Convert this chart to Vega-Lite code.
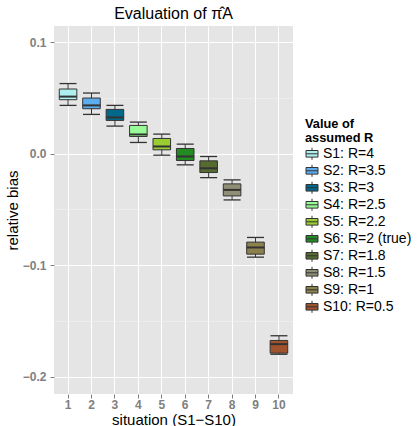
{
  "$schema": "https://vega.github.io/schema/vega-lite/v6.json",
  "width": 239,
  "height": 368,
  "autosize": {"type": "none"},
  "padding": {"left": 54, "top": 26, "right": 125, "bottom": 32},
  "background": "white",
  "config": {"font": "Liberation Sans", "view": {"fill": "#E5E5E5", "stroke": null}},
  "title": {"text": "Evaluation of π̂A", "fontSize": 16, "fontWeight": "normal", "color": "black", "offset": 4, "anchor": "middle"},
  "data": {"values": [
    {"situation": 1, "label": "S1: R=4", "lo": 0.0435, "q1": 0.0486, "med": 0.0514, "q3": 0.0582, "hi": 0.0631},
    {"situation": 2, "label": "S2: R=3.5", "lo": 0.0354, "q1": 0.0405, "med": 0.0435, "q3": 0.0501, "hi": 0.0546},
    {"situation": 3, "label": "S3: R=3", "lo": 0.0249, "q1": 0.030, "med": 0.0327, "q3": 0.0399, "hi": 0.0435},
    {"situation": 4, "label": "S4: R=2.5", "lo": 0.0102, "q1": 0.0156, "med": 0.0174, "q3": 0.0255, "hi": 0.0285},
    {"situation": 5, "label": "S5: R=2.2", "lo": -0.0012, "q1": 0.0036, "med": 0.0066, "q3": 0.0138, "hi": 0.0177},
    {"situation": 6, "label": "S6: R=2 (true)", "lo": -0.0099, "q1": -0.006, "med": -0.0024, "q3": 0.0048, "hi": 0.0087},
    {"situation": 7, "label": "S7: R=1.8", "lo": -0.0214, "q1": -0.0168, "med": -0.013, "q3": -0.0063, "hi": -0.0024},
    {"situation": 8, "label": "S8: R=1.5", "lo": -0.0414, "q1": -0.0378, "med": -0.0324, "q3": -0.027, "hi": -0.0234},
    {"situation": 9, "label": "S9: R=1", "lo": -0.0928, "q1": -0.0901, "med": -0.0841, "q3": -0.0793, "hi": -0.0751},
    {"situation": 10, "label": "S10: R=0.5", "lo": -0.180, "q1": -0.179, "med": -0.1709, "q3": -0.1676, "hi": -0.1634}
  ]},
  "encoding": {
    "x": {
      "field": "situation", "type": "ordinal",
      "scale": {"paddingInner": 0.25, "paddingOuter": 0.225},
      "axis": {"title": "situation (S1−S10)", "titleFontSize": 15, "titleFontWeight": "normal", "titleColor": "black", "titlePadding": 2,
               "labelAngle": 0, "labelFontSize": 12, "labelFontWeight": "bold", "labelColor": "#7F7F7F", "labelPadding": 1,
               "tickColor": "#7F7F7F", "tickSize": 4, "domain": false, "grid": true, "gridColor": "white", "gridWidth": 1, "bandPosition": 0.5}
    }
  },
  "resolve": {"axis": {"y": "independent"}},
  "layer": [
    {
      "mark": {"type": "rule", "color": "#333333", "strokeWidth": 1},
      "encoding": {
        "y": {"field": "lo", "type": "quantitative",
              "scale": {"domain": [-0.2157, 0.1148], "nice": false, "zero": false},
              "axis": {"title": "relative bias", "values": [-0.2, -0.1, 0, 0.1], "format": ".1f",
                       "labelFontSize": 12, "labelFontWeight": "bold", "labelColor": "#7F7F7F", "labelPadding": 4,
                       "tickColor": "#7F7F7F", "tickSize": 4, "domain": false, "grid": true, "gridColor": "white", "gridWidth": 1,
                       "titleFontSize": 15, "titleFontWeight": "normal", "titleColor": "black", "titlePadding": 2, "orient": "left"}},
        "y2": {"field": "hi"}
      }
    },
    {
      "mark": {"type": "tick", "color": "#333333", "thickness": 1.3, "size": 17, "opacity": 1},
      "encoding": {"y": {"field": "lo", "type": "quantitative",
        "axis": {"orient": "left", "values": [-0.15, -0.05, 0.05], "labels": false, "ticks": false, "domain": false, "title": null,
                 "grid": true, "gridColor": "#F2F2F2", "gridWidth": 0.6}}}
    },
    {
      "mark": {"type": "tick", "color": "#333333", "thickness": 1.3, "size": 17, "opacity": 1},
      "encoding": {"y": {"field": "hi", "type": "quantitative", "axis": null}}
    },
    {
      "mark": {"type": "bar", "stroke": "#333333", "strokeWidth": 1, "opacity": 1},
      "encoding": {
        "y": {"field": "q1", "type": "quantitative", "axis": null},
        "y2": {"field": "q3"},
        "fill": {"field": "label", "type": "nominal",
          "scale": {"domain": ["S1: R=4", "S2: R=3.5", "S3: R=3", "S4: R=2.5", "S5: R=2.2", "S6: R=2 (true)", "S7: R=1.8", "S8: R=1.5", "S9: R=1", "S10: R=0.5"],
                    "range": ["#AFEEEE", "#5CACEE", "#00688B", "#98FB98", "#9ACD32", "#228B22", "#556B2F", "#8F8F76", "#8B814C", "#A0522D"]},
          "legend": {"title": ["Value of", "assumed R"], "orient": "none", "legendX": 251, "legendY": 92,
                     "titleFontSize": 12.8, "titleFontWeight": "bold", "titleColor": "black", "titleLineHeight": 14, "titlePadding": 2,
                     "labelFontSize": 14, "labelColor": "black", "labelOffset": 4, "labelLimit": 0,
                     "symbolType": "M-1,-0.55H1V0.55H-1Z M-1,0H1 M0,-0.55V-1 M0,0.55V1",
                     "symbolSize": 144, "symbolStrokeColor": "#333333", "symbolStrokeWidth": 1, "symbolOpacity": 1,
                     "rowPadding": 1, "padding": 0}}
      }
    },
    {
      "mark": {"type": "tick", "color": "#333333", "thickness": 2, "size": 17.6, "opacity": 1},
      "encoding": {"y": {"field": "med", "type": "quantitative", "axis": null}}
    }
  ]
}
